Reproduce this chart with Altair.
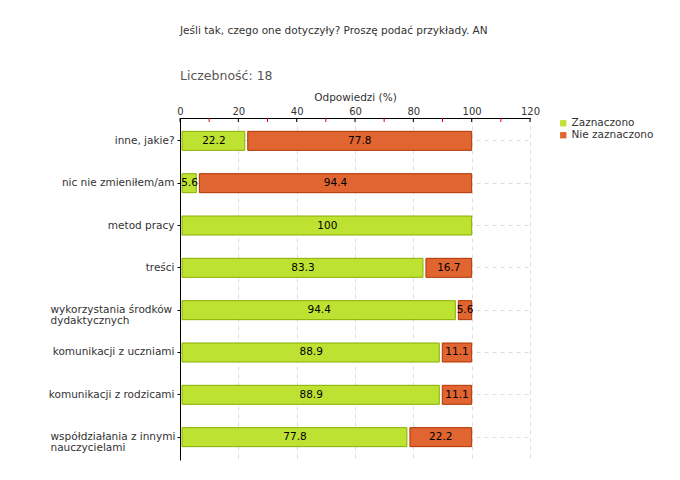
import altair as alt
import pandas as pd

categories = [
    "inne, jakie?",
    "nic nie zmieniłem/am",
    "metod pracy",
    "treści",
    "wykorzystania środków|dydaktycznych",
    "komunikacji z uczniami",
    "komunikacji z rodzicami",
    "współdziałania z innymi|nauczycielami",
]
zaznaczono = [22.2, 5.6, 100, 83.3, 94.4, 88.9, 88.9, 77.8]
nie_zaznaczono = [77.8, 94.4, 0, 16.7, 5.6, 11.1, 11.1, 22.2]
series = ["Zaznaczono", "Nie zaznaczono"]
colors = ["#BEE232", "#E06530"]
strokes = ["#8AAE00", "#B03300"]
major_ticks = [0, 20, 40, 60, 80, 100, 120]
minor_ticks = [10, 30, 50, 70, 90, 110]

rows = []
for c, a, b in zip(categories, zaznaczono, nie_zaznaczono):
    rows.append({"cat": c, "series": series[0], "v": a, "start": 0, "end": a})
    if b > 0:
        rows.append({"cat": c, "series": series[1], "v": b, "start": a, "end": a + b})
df = pd.DataFrame(rows)
df["mid"] = (df["start"] + df["end"]) / 2
df["label"] = df["v"].map(lambda x: f"{x:g}")

FONT = "DejaVu Sans"
TXT = "#333333"
MULTI = "indexof(datum.value, '|') >= 0"

base = alt.Chart(df)
y_scale = alt.Scale(paddingInner=0, paddingOuter=0.04)

y_enc = alt.Y(
    "cat:N",
    sort=categories,
    title=None,
    scale=y_scale,
    axis=alt.Axis(
        labelExpr="split(datum.label, '|')",
        labelFont=FONT,
        labelFontSize=10.5,
        labelColor=TXT,
        labelAlign={"condition": {"test": MULTI, "value": "left"}, "value": "right"},
        labelPadding={"condition": {"test": MULTI, "value": 127}, "value": 3},
        labelLineHeight=11,
        tickSize=3,
        tickColor="black",
        domainColor="black",
        grid=True,
        gridColor="#dddddd",
        gridDash=[4, 4],
        bandPosition=0.5,
    ),
)

x_scale = alt.Scale(domain=[0, 120], nice=False)

color_enc = alt.Color(
    "series:N",
    scale=alt.Scale(domain=series, range=colors),
    sort=series,
    legend=alt.Legend(
        title=None,
        orient="none",
        legendX=378,
        legendY=0,
        symbolType="square",
        symbolSize=40,
        symbolStrokeWidth=0,
        labelFont=FONT,
        labelFontSize=10.5,
        labelColor=TXT,
        rowPadding=1,
        labelOffset=3,
    ),
)

x_axis = alt.Axis(
    orient="top",
    values=major_ticks,
    title="Odpowiedzi (%)",
    titleFont=FONT,
    titleFontSize=10.5,
    titleFontWeight="normal",
    titleColor=TXT,
    titlePadding=4,
    labelFont=FONT,
    labelFontSize=10,
    labelColor=TXT,
    labelPadding=2,
    labelFlush=False,
    ticks=False,
    domainColor="black",
    grid=True,
    gridColor="#dddddd",
    gridDash=[4, 4],
)

green = base.transform_filter(alt.datum.series == series[0]).mark_bar(
    height=19, xOffset=2, stroke=strokes[0], strokeWidth=1
).encode(
    x=alt.X("start:Q", scale=x_scale, axis=x_axis),
    x2="end:Q",
    y=y_enc,
    color=color_enc,
)

red = base.transform_filter(alt.datum.series == series[1]).mark_bar(
    height=19, xOffset=3, stroke=strokes[1], strokeWidth=1
).encode(
    x=alt.X("start:Q", scale=x_scale),
    x2="end:Q",
    y=alt.Y("cat:N", sort=categories, scale=y_scale),
    color=color_enc,
)

labels = base.mark_text(
    font=FONT, fontSize=10.5, color="black", dx=1.5, baseline="middle"
).encode(
    x=alt.X("mid:Q", scale=x_scale),
    y=alt.Y("cat:N", sort=categories, scale=y_scale),
    text="label:N",
)

tick_df_major = pd.DataFrame({"t": major_ticks})
tick_df_minor = pd.DataFrame({"t": minor_ticks})
maj = alt.Chart(tick_df_major).mark_rule(color="black", strokeWidth=1).encode(
    x=alt.X("t:Q", scale=x_scale), y=alt.value(0), y2=alt.value(4)
)
mino = alt.Chart(tick_df_minor).mark_rule(color="#e00000", strokeWidth=1).encode(
    x=alt.X("t:Q", scale=x_scale), y=alt.value(0), y2=alt.value(4)
)

chart = alt.layer(green, red, labels, maj, mino).properties(
    width=350,
    height=342,
    autosize="none",
    padding={"left": 172, "top": 110, "right": 140, "bottom": 10},
    title=alt.TitleParams(
        text="Jeśli tak, czego one dotyczyły? Proszę podać przykłady. AN",
        subtitle="Liczebność: 18",
        anchor="start",
        frame="group",
        font=FONT,
        fontSize=10.5,
        fontWeight="normal",
        color=TXT,
        subtitleFont=FONT,
        subtitleFontSize=12.5,
        subtitleColor="#555555",
        subtitlePadding=33,
        offset=10,
    ),
).configure_view(strokeWidth=0)

chart.save("out.html", embed_options={"renderer": "svg", "actions": False})
